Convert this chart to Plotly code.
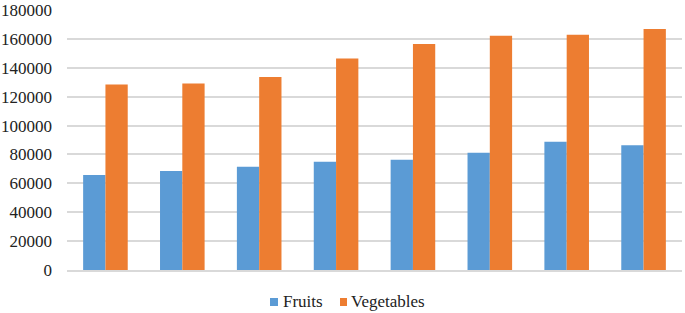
import plotly.graph_objects as go

categories = ["1", "2", "3", "4", "5", "6", "7", "8"]
fruits = [65700, 68500, 71500, 75000, 76400, 81200, 88800, 86300]
vegetables = [128500, 129200, 133600, 146500, 156500, 162200, 162900, 166800]
y_ticks = [0, 20000, 40000, 60000, 80000, 100000, 120000, 140000, 160000, 180000]
series_names = ["Fruits", "Vegetables"]
series_colors = ["#5B9BD5", "#ED7D31"]

font_family = "'Liberation Serif', 'Times New Roman', 'DejaVu Serif', serif"

W, H = 685, 313
ML, MR, MT, MB = 67, 3, 10, 43
PW, PH = W - ML - MR, H - MT - MB


def px_x(px):
    return (px - ML) / PW


def px_y(py):
    return (H - MB - py) / PH


fig = go.Figure()
for name, vals, col in zip(series_names, [fruits, vegetables], series_colors):
    fig.add_trace(go.Bar(x=categories, y=vals, name=name, showlegend=False,
                         marker=dict(color=col, line=dict(width=0))))

# custom legend (square marker + text), matching the reference's compact spacing
legend_items = [(series_names[0], series_colors[0], 270, 278, 280.5),
                (series_names[1], series_colors[1], 340, 347, 348.5)]
shapes, annotations = [], []
for name, col, sx0, sx1, tx in legend_items:
    shapes.append(dict(type="rect", xref="paper", yref="paper",
                       x0=px_x(sx0), x1=px_x(sx1), y0=px_y(306), y1=px_y(298),
                       fillcolor=col, line=dict(width=0)))
    annotations.append(dict(text=name, xref="paper", yref="paper", x=px_x(tx), y=px_y(301.5),
                            xanchor="left", yanchor="middle", showarrow=False,
                            font=dict(family=font_family, size=17, color="#222222")))

fig.update_layout(
    width=W, height=H,
    margin=dict(l=ML, r=MR, t=MT, b=MB, autoexpand=False),
    paper_bgcolor="white", plot_bgcolor="white",
    barmode="group", bargap=0.42, bargroupgap=0,
    font=dict(family=font_family, size=17, color="#222222"),
    showlegend=False,
    shapes=shapes, annotations=annotations,
)
fig.update_xaxes(showticklabels=False, showgrid=False, showline=True, linecolor="#D9D9D9", linewidth=2, ticks="")
fig.update_yaxes(range=[0, 180000], tickvals=y_ticks, ticktext=[str(v) for v in y_ticks],
                 showgrid=True, gridcolor="#D9D9D9", gridwidth=2, zeroline=False, ticks="", ticklabelstandoff=14,
                 tickfont=dict(family=font_family, size=17, color="#222222"))

fig.write_html("out.html", config={"displayModeBar": False},
               post_script="document.body.style.margin='0';")
